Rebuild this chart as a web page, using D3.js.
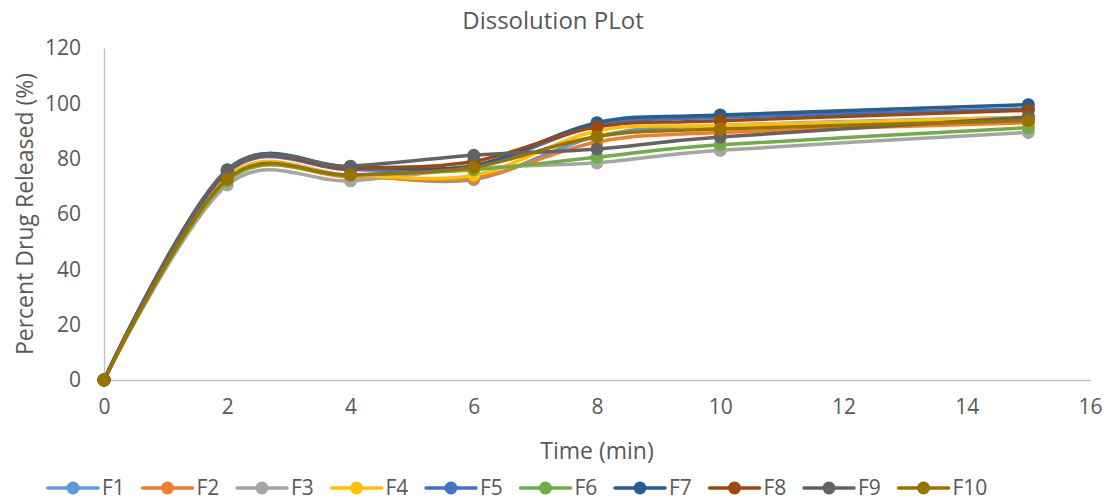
<!DOCTYPE html>
<html>
<head>
<meta charset="utf-8">
<script src="https://cdn.jsdelivr.net/npm/d3@7"></script>
<style>
  body { margin: 0; background: #fff; }
  text { font-family: "Open Sans", sans-serif; fill: #595959; }
</style>
</head>
<body>
<div id="chart-area"></div>
<script>
var times = [0, 2, 4, 6, 8, 10, 15];
var seriesNames = ["F1", "F2", "F3", "F4", "F5", "F6", "F7", "F8", "F9", "F10"];
var colors = ["#5B9BD5", "#ED7D31", "#A5A5A5", "#FFC000", "#4472C4",
              "#70AD47", "#255E91", "#9E480E", "#636363", "#997300"];

var F1 = [0, 73, 74, 72.5, 88, 92, 95];
var F2 = [0, 72, 73.5, 73, 86, 89.5, 93];
var F3 = [0, 70.5, 72, 76.5, 78.5, 83, 89.5];
var F4 = [0, 73.5, 74, 74, 90, 92, 95];
var F5 = [0, 75, 76, 77, 92, 95, 98];
var F6 = [0, 72, 74, 76, 80.5, 85, 91.2];
var F7 = [0, 76, 77, 77.5, 93, 95.8, 99.5];
var F8 = [0, 75.5, 76.5, 79, 91.5, 93.7, 97.5];
var F9 = [0, 75.8, 77.3, 81.2, 83.5, 87.8, 95];
var F10 = [0, 72.6, 74.1, 76.9, 88, 90.7, 93.8];
var allSeries = [F1, F2, F3, F4, F5, F6, F7, F8, F9, F10];

var xTicks = [0, 2, 4, 6, 8, 10, 12, 14, 16];
var yTicks = [0, 20, 40, 60, 80, 100, 120];

var margin = { top: 48, right: 18, bottom: 124, left: 104 },
    width = 1108 - margin.left - margin.right,
    height = 504 - margin.top - margin.bottom;

var svg = d3.select("#chart-area")
    .append("svg")
    .attr("width", 1108)
    .attr("height", 504);

var g = svg.append("g")
    .attr("transform", "translate(" + margin.left + "," + margin.top + ")");

var x = d3.scaleLinear().domain([0, 16]).range([0, width]);
var y = d3.scaleLinear().domain([0, 120]).range([height, 0]);

// axes
var xAxis = g.append("g")
    .attr("transform", "translate(0," + height + ")")
    .call(d3.axisBottom(x).tickValues(xTicks).tickSize(0).tickPadding(19));
var yAxis = g.append("g")
    .call(d3.axisLeft(y).tickValues(yTicks).tickSize(0).tickPadding(23));

[xAxis, yAxis].forEach(function (a) {
    a.select(".domain").attr("stroke", "#bfbfbf").attr("stroke-width", 1.3);
    a.selectAll("text").style("font-size", "21px").attr("fill", "#595959");
});

// lines
var line = d3.line()
    .x(function (d) { return x(d[0]); })
    .y(function (d) { return y(d[1]); })
    .curve(d3.curveCardinal.tension(0));

allSeries.forEach(function (vals, i) {
    var pts = times.map(function (t, j) { return [t, vals[j]]; });
    var sg = g.append("g").attr("class", "series");
    sg.append("path")
        .datum(pts)
        .attr("d", line)
        .attr("fill", "none")
        .attr("stroke", colors[i])
        .attr("stroke-width", 3.5)
        .attr("stroke-linecap", "round");
    sg.selectAll("circle")
        .data(pts)
        .enter()
        .append("circle")
        .attr("cx", function (d) { return x(d[0]); })
        .attr("cy", function (d) { return y(d[1]); })
        .attr("r", 6.5)
        .attr("fill", colors[i]);
});

// titles
svg.append("text")
    .attr("x", 553)
    .attr("y", 29)
    .attr("text-anchor", "middle")
    .style("font-size", "24px")
    .text("Dissolution PLot");

svg.append("text")
    .attr("x", margin.left + width / 2)
    .attr("y", 459)
    .attr("text-anchor", "middle")
    .style("font-size", "23px")
    .text("Time (min)");

svg.append("text")
    .attr("transform", "translate(33," + (margin.top + height / 2) + ") rotate(-90)")
    .attr("text-anchor", "middle")
    .style("font-size", "23px")
    .text("Percent Drug Released (%)");

// legend
var legend = svg.append("g").attr("transform", "translate(48,488)");
seriesNames.forEach(function (name, i) {
    var lg = legend.append("g").attr("transform", "translate(" + (i * 94.5) + ",0)");
    lg.append("line")
        .attr("x1", 0).attr("x2", 50)
        .attr("stroke", colors[i])
        .attr("stroke-width", 3.5)
        .attr("stroke-linecap", "round");
    lg.append("circle")
        .attr("cx", 25).attr("r", 6.5)
        .attr("fill", colors[i]);
    lg.append("text")
        .attr("x", 54)
        .attr("dy", "0.35em")
        .style("font-size", "21px")
        .text(name);
});
</script>
</body>
</html>
